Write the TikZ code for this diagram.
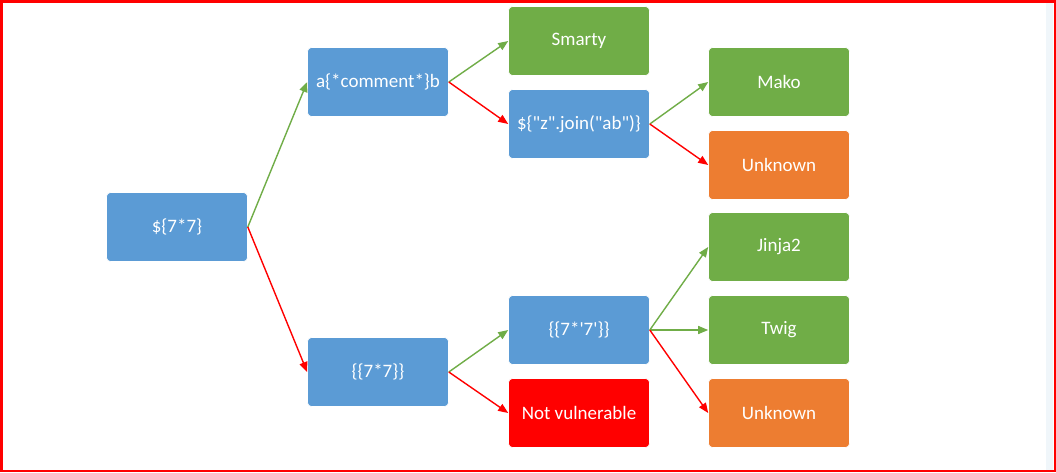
\documentclass[tikz,border=0pt]{standalone}
\usepackage{fontspec}
\setmainfont{Carlito}[Ligatures=TeXOff]
\usetikzlibrary{arrows.meta}
\definecolor{bblue}{HTML}{5B9BD5}
\definecolor{bgreen}{HTML}{70AD47}
\definecolor{borange}{HTML}{ED7D31}
\definecolor{bred}{HTML}{FF0000}
\definecolor{strip}{HTML}{F0F6FA}
\begin{document}
\begin{tikzpicture}[x=1pt,y=-1pt,
  box/.style={rectangle, rounded corners=4pt, minimum width=141pt, minimum height=69pt,
    text=white, font=\fontsize{19}{22}\selectfont, inner sep=0pt, draw=white, line width=0.6pt},
  bluebox/.style={box, fill=bblue},
  greenbox/.style={box, fill=bgreen},
  orangebox/.style={box, fill=borange},
  redbox/.style={box, fill=bred},
  yes/.style={draw=bgreen, line width=1.4pt, -{Triangle[length=10pt,width=8pt]}},
  no/.style={draw=bred, line width=1.4pt, -{Triangle[length=10pt,width=8pt]}}]
\useasboundingbox (0,0) rectangle (1056,472);
\fill[white] (0,0) rectangle (1056,472);
\fill[strip] (1046,2) rectangle (1053,470);
\draw[bred, line width=2.5pt] (1.25,1.25) rectangle (1054.75,470.75);

\node[bluebox] (root) at (177,227) {\$\{7*7\}};
\node[bluebox] (comment) at (378,82) {a\{*comment*\}b};
\node[bluebox] (curly) at (378,372) {\{\{7*7\}\}};
\node[greenbox] (smarty) at (579,41) {Smarty};
\node[bluebox] (join) at (579,124) {\$\{"z".join("ab")\}};
\node[bluebox] (quote) at (579,330) {\{\{7*'7'\}\}};
\node[redbox] (notvuln) at (579,413) {Not vulnerable};
\node[greenbox] (mako) at (779,82) {Mako};
\node[orangebox] (unk1) at (779,165) {Unknown};
\node[greenbox] (jinja) at (779,247) {Jinja2};
\node[greenbox] (twig) at (779,330) {Twig};
\node[orangebox] (unk2) at (779,413) {Unknown};

\draw[yes] (root.east) -- (comment.west);
\draw[no] (root.east) -- (curly.west);
\draw[yes] (comment.east) -- (smarty.west);
\draw[no] (comment.east) -- (join.west);
\draw[yes] (join.east) -- (mako.west);
\draw[no] (join.east) -- (unk1.west);
\draw[yes] (curly.east) -- (quote.west);
\draw[no] (curly.east) -- (notvuln.west);
\draw[yes] (quote.east) -- (jinja.west);
\draw[yes] (quote.east) -- (twig.west);
\draw[no] (quote.east) -- (unk2.west);
\end{tikzpicture}
\end{document}
